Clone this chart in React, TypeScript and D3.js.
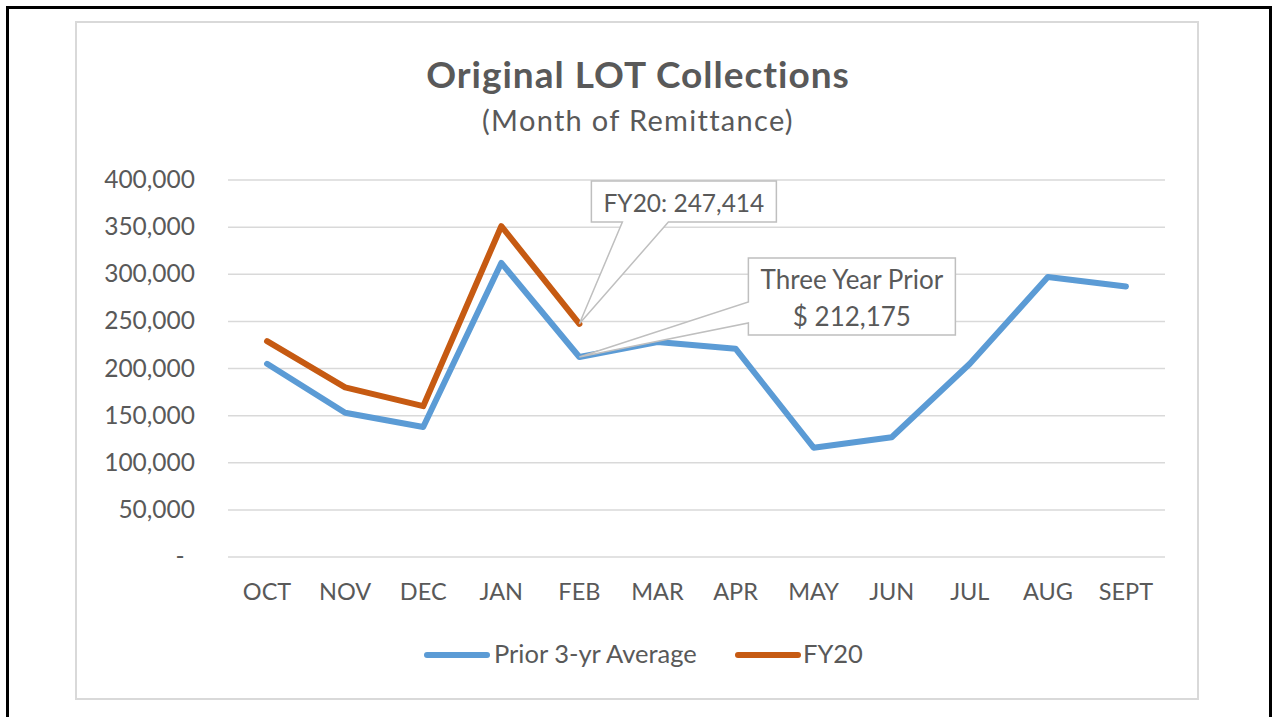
import * as d3 from "d3";
import { useEffect } from "react";

const months = ["OCT", "NOV", "DEC", "JAN", "FEB", "MAR", "APR", "MAY", "JUN", "JUL", "AUG", "SEPT"];
const priorAvg = [205000, 153000, 138000, 312000, 212175, 228000, 221000, 116000, 127000, 205000, 297000, 287000];
const fy20 = [229000, 180000, 160000, 351000, 247414];
const yTicks = [0, 50000, 100000, 150000, 200000, 250000, 300000, 350000, 400000];

const W = 1276;
const H = 717;
const FONT = "Lato, 'Open Sans', sans-serif";
const TEXT = "#595959";
const GRID = "#D9D9D9";
const BLUE = "#5B9BD5";
const ORANGE = "#C65A12";

export default function App() {
  useEffect(() => {
    document.body.style.margin = "0";
  }, []);

  const x = d3.scaleBand<string>().domain(months).range([228, 1165]);
  const cx = (m: string) => (x(m) ?? 0) + x.bandwidth() / 2;
  const y = d3.scaleLinear().domain([0, 400000]).range([557, 180]);

  const line = d3
    .line<number>()
    .x((_, i) => cx(months[i]))
    .y((d) => y(d));

  const fmt = d3.format(",");

  // callout anchors
  const fyX = cx(months[4]);
  const fyY = y(fy20[4]);
  const prX = cx(months[4]);
  const prY = y(priorAvg[4]);

  const fyBox = { x0: fyX + 12, x1: fyX + 197, y0: 181, y1: 222 };
  const prBox = { x0: prX + 169, x1: prX + 376, y0: 258, y1: 335 };

  return (
    <svg width={W} height={H} style={{ position: "absolute", left: 0, top: 0, display: "block" }} fontFamily={FONT}>
      <rect x={0} y={0} width={W} height={H} fill="white" />
      {/* outer black frame */}
      <rect x={7.5} y={7.5} width={1263} height={730} fill="none" stroke="#000" strokeWidth={3} />
      {/* chart area frame */}
      <rect x={76} y={22} width={1122} height={677} fill="white" stroke={GRID} strokeWidth={2} />

      <text x={638} y={88} textAnchor="middle" fontSize={37} fontWeight="bold" letterSpacing={1} fill={TEXT}>
        Original LOT Collections
      </text>
      <text x={638} y={131} textAnchor="middle" fontSize={29} letterSpacing={1.3} fill={TEXT}>
        (Month of Remittance)
      </text>

      {yTicks.map((t) => (
        <g key={t}>
          <line x1={228} x2={1165} y1={y(t)} y2={y(t)} stroke={GRID} strokeWidth={1.5} />
          <text
            x={t === 0 ? 180 : 195}
            y={y(t) + 8}
            textAnchor={t === 0 ? "middle" : "end"}
            fontSize={24.5}
            fill={TEXT}
          >
            {t === 0 ? "-" : fmt(t)}
          </text>
        </g>
      ))}

      {months.map((m) => (
        <text key={m} x={cx(m)} y={600} textAnchor="middle" fontSize={23.5} fill={TEXT}>
          {m}
        </text>
      ))}

      <path d={line(priorAvg) ?? ""} fill="none" stroke={BLUE} strokeWidth={6} strokeLinejoin="round" strokeLinecap="round" />
      <path d={line(fy20) ?? ""} fill="none" stroke={ORANGE} strokeWidth={6} strokeLinejoin="round" strokeLinecap="round" />

      {/* FY20 callout */}
      <path
        d={`M${fyBox.x0},${fyBox.y0} H${fyBox.x1} V${fyBox.y1} H${fyX + 89} L${fyX},${fyY} L${fyX + 43},${fyBox.y1} H${fyBox.x0} Z`}
        fill="white"
        stroke="#BFBFBF"
        strokeWidth={1.5}
      />
      <text x={(fyBox.x0 + fyBox.x1) / 2} y={212} textAnchor="middle" fontSize={24.5} fill={TEXT}>
        {"FY20: " + fmt(fy20[4])}
      </text>

      {/* Three year prior callout */}
      <path
        d={`M${prBox.x0},${prBox.y0} H${prBox.x1} V${prBox.y1} H${prBox.x0} V${prY - 34} L${prX},${prY} L${prBox.x0},${prY - 55} Z`}
        fill="white"
        stroke="#BFBFBF"
        strokeWidth={1.5}
      />
      <text x={(prBox.x0 + prBox.x1) / 2} y={289} textAnchor="middle" fontSize={26} fill={TEXT}>
        Three Year Prior
      </text>
      <text x={(prBox.x0 + prBox.x1) / 2} y={326} textAnchor="middle" fontSize={26} fill={TEXT}>
        {"$ " + fmt(priorAvg[4])}
      </text>

      {/* legend */}
      <line x1={427} x2={487} y1={655} y2={655} stroke={BLUE} strokeWidth={6} strokeLinecap="round" />
      <text x={494} y={663} fontSize={25.5} fill={TEXT}>
        Prior 3-yr Average
      </text>
      <line x1={738} x2={798} y1={655} y2={655} stroke={ORANGE} strokeWidth={6} strokeLinecap="round" />
      <text x={803} y={663} fontSize={25.5} fill={TEXT}>
        FY20
      </text>
    </svg>
  );
}
